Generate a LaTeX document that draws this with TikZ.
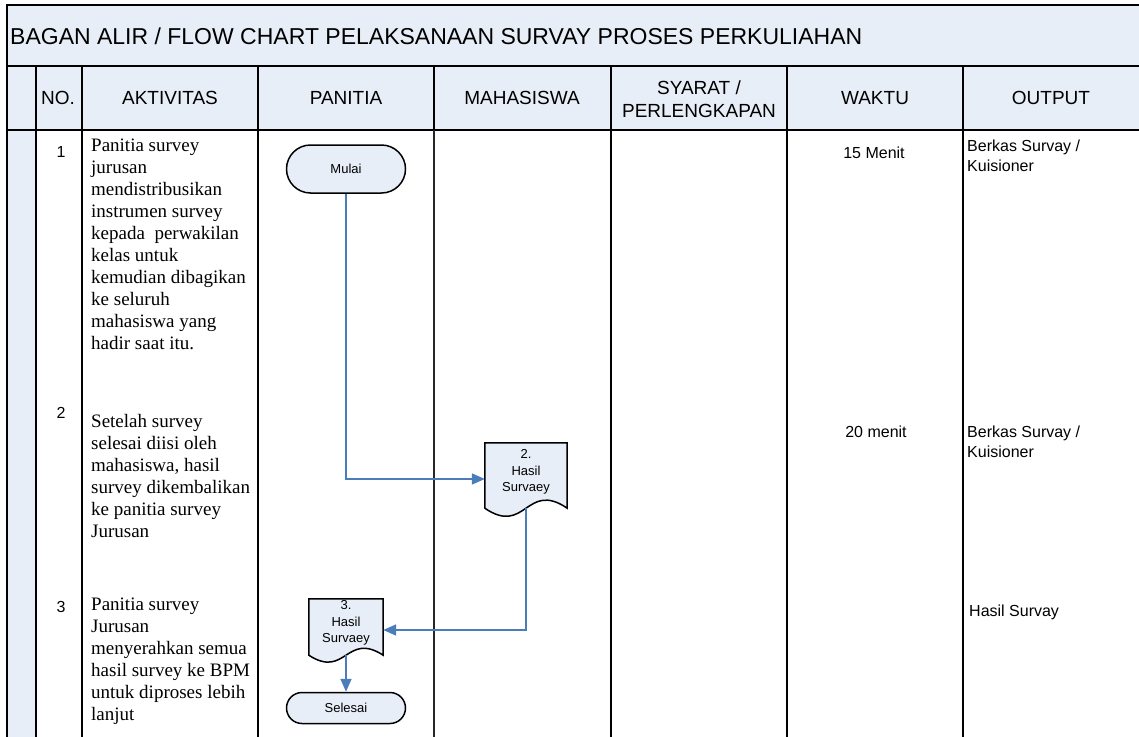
\documentclass[tikz,border=0pt]{standalone}
\usepackage{fontspec}
\setmainfont{Liberation Sans}
\newfontfamily\serifx{Liberation Serif}
\usetikzlibrary{arrows.meta,calc}
\definecolor{hdrblue}{RGB}{232,238,247}
\definecolor{flowblue}{RGB}{74,126,187}
\begin{document}
\begin{tikzpicture}[x=1pt,y=-1pt,
  frameline/.style={line width=2.2pt,black},
  colline/.style={line width=1.8pt,black},
  thinline/.style={line width=1.2pt,black!85},
  hdr/.style={font=\fontsize{19}{23}\selectfont,align=center,inner sep=0pt},
  act/.style={font=\serifx\fontsize{19}{22}\selectfont,align=left,anchor=north west,inner sep=0pt},
  num/.style={font=\fontsize{16}{19}\selectfont,inner sep=0pt},
  small/.style={font=\fontsize{16}{20}\selectfont,inner sep=0pt},
  term/.style={draw,line width=1.5pt,fill=hdrblue,minimum width=119pt,font=\fontsize{13}{15}\selectfont,inner sep=0pt},
  docbox/.style={inner sep=0pt},
  docline/.style={draw=black,line width=1.5pt,fill=hdrblue},
  doctext/.style={font=\fontsize{13}{16.5}\selectfont,align=center,inner sep=0pt},
  flow/.style={draw=flowblue,line width=1.6pt,-{Triangle[length=13pt,width=11pt]}}
]
\useasboundingbox (0,0) rectangle (1139,736);
\clip (0,0) rectangle (1139,736);
% fills
\fill[hdrblue] (7,5) rectangle (1150,130);
\fill[hdrblue] (7,130) rectangle (36,750);
% table lines
\draw[frameline] (1150,5) -- (7,5) -- (7,750);
\draw[frameline] (7,66) -- (1150,66);
\draw[frameline] (7,130) -- (1150,130);
\foreach \x in {36,82,258,611,787,963} \draw[colline] (\x,66) -- (\x,750);
\draw[colline] (434,66) -- (434,130);
\draw[thinline] (434,130) -- (434,750);
% title
\node[anchor=west,inner sep=0pt,font=\fontsize{23}{27}\selectfont] (title) at (10,36) {BAGAN ALIR / FLOW CHART PELAKSANAAN SURVAY PROSES PERKULIAHAN};
% headers
\node[hdr] (hno) at (58,98) {NO.};
\node[hdr] (hakt) at (170,98) {AKTIVITAS};
\node[hdr] (hpan) at (346,98) {PANITIA};
\node[hdr] (hmhs) at (522,98) {MAHASISWA};
\node[hdr] (hsya) at (699,99) {SYARAT /\\PERLENGKAPAN};
\node[hdr] (hwak) at (875,98) {WAKTU};
\node[hdr] (hout) at (1051,98) {OUTPUT};
% numbers
\node[num] (n1) at (61,152) {1};
\node[num] (n2) at (61,413) {2};
\node[num] (n3) at (61,607) {3};
% activities
\node[act] (a1) at (91,139) {Panitia survey\\jurusan\\mendistribusikan\\instrumen survey\\kepada\ \ perwakilan\\kelas untuk\\kemudian dibagikan\\ke seluruh\\mahasiswa yang\\hadir saat itu.};
\node[act] (a2) at (91,414) {Setelah survey\\selesai diisi oleh\\mahasiswa, hasil\\survey dikembalikan\\ke panitia survey\\Jurusan};
\node[act] (a3) at (91,598) {Panitia survey\\Jurusan\\menyerahkan semua\\hasil survey ke BPM\\untuk diproses lebih\\lanjut};
% waktu
\node[small] (w1) at (874,153) {15 Menit};
\node[small] (w2) at (876,432) {20 menit};
% output
\node[small,anchor=north west,align=left] (o1) at (967,140) {Berkas Survay /\\Kuisioner};
\node[small,anchor=north west,align=left] (o2) at (967,426) {Berkas Survay /\\Kuisioner};
\node[small,anchor=west] (o3) at (969,612) {Hasil Survay};
% flow shapes
\node[term,minimum height=48pt,rounded corners=24pt] (mulai) at (346,169) {Mulai};
\node[term,minimum height=31pt,rounded corners=15.5pt] (selesai) at (346,708) {Selesai};
\node[docbox,minimum width=82pt,minimum height=65pt] (doc2) at (526,475.5) {};
\path[docline] (doc2.north west) -- (doc2.south west) .. controls +(41,28) and +(-41,-28) .. (doc2.south east) -- (doc2.north east) -- cycle;
\node[doctext] (doc2t) at (526,472) {2.\\Hasil\\Survaey};
\node[docbox,minimum width=74pt,minimum height=56pt] (doc3) at (346,627) {};
\path[docline] (doc3.north west) -- (doc3.south west) .. controls +(37,24) and +(-37,-24) .. (doc3.south east) -- (doc3.north east) -- cycle;
\node[doctext] (doc3t) at (346,623) {3.\\Hasil\\Survaey};
% connectors
\draw[flow] (mulai.south) |- ($(doc2.west)+(0,3.5)$);
\draw[flow] (doc2.south) |- ($(doc3.east)+(0,3)$);
\draw[flow] (doc3.south) -- (selesai.north);
\end{tikzpicture}
\end{document}
